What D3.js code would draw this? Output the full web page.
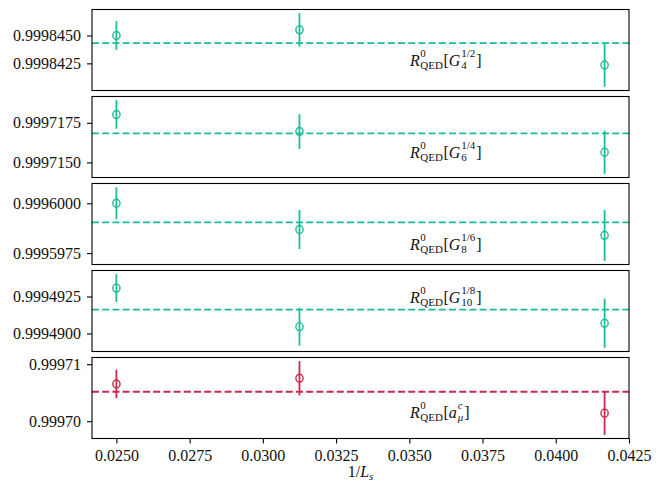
<!DOCTYPE html>
<html><head><meta charset="utf-8">
<script src="https://cdn.jsdelivr.net/npm/d3@7"></script>
<style>body{margin:0;background:#fff}svg{display:block}</style>
</head><body>
<svg id="chart" width="665" height="483"></svg>
<script>
// ---- data ----
const xValues = [0.025, 0.03125, 0.0416667];
const xTicks = [0.025, 0.0275, 0.03, 0.0325, 0.035, 0.0375, 0.04, 0.0425];

const values1 = [0.99984500, 0.99984551, 0.99984235];
const errors1 = [1.29e-6, 1.50e-6, 1.96e-6];
const fit1 = 0.99984431;
const ticks1 = [0.9998425, 0.9998450];

const values2 = [0.99971803, 0.99971695, 0.99971564];
const errors2 = [0.90e-6, 1.09e-6, 1.36e-6];
const fit2 = 0.99971684;
const ticks2 = [0.9997150, 0.9997175];

const values3 = [0.99960000, 0.99959868, 0.99959839];
const errors3 = [0.81e-6, 0.98e-6, 1.28e-6];
const fit3 = 0.99959904;
const ticks3 = [0.9995975, 0.9996000];

const values4 = [0.99949307, 0.99949046, 0.99949069];
const errors4 = [0.94e-6, 1.28e-6, 1.66e-6];
const fit4 = 0.99949161;
const ticks4 = [0.9994900, 0.9994925];

const values5 = [0.99970653, 0.99970753, 0.99970141];
const errors5 = [2.5e-6, 3.0e-6, 3.8e-6];
const fit5 = 0.99970517;
const ticks5 = [0.99970, 0.99971];

const tickDecimals = [7, 7, 7, 7, 5];
const labelG = ["G", "G", "G", "G", "a"];
const labelSup = ["1/2", "1/4", "1/6", "1/8", "c"];
const labelSub = ["4", "6", "8", "10", "μ"];
const colors = ["#1abc9c", "#1abc9c", "#1abc9c", "#1abc9c", "#c9284f"];

// ---- layout ----
const W = 665, H = 483;
const left = 92, right = 629;
const panelTop0 = 9.5, panelStep = 87, panelH = 81;
const labelX = 410;
const labelOffsets = [56.5, 61.8, 66.5, 32.8, 60.8];
const font = "'Liberation Serif', 'DejaVu Serif', serif";

const panels = [
  {v: values1, e: errors1, fit: fit1, ticks: ticks1},
  {v: values2, e: errors2, fit: fit2, ticks: ticks2},
  {v: values3, e: errors3, fit: fit3, ticks: ticks3},
  {v: values4, e: errors4, fit: fit4, ticks: ticks4},
  {v: values5, e: errors5, fit: fit5, ticks: ticks5},
];

const svg = d3.select("#chart");
const xMin = d3.min(xValues), xMax = d3.max(xValues);
const xPad = (xMax - xMin) * 0.05;
const x = d3.scaleLinear().domain([xMin - xPad, xMax + xPad]).range([left, right]);

function mathLabel(g, x0, y0, mainLetter, sup, sub, italicSub) {
  const t = g.append("text").attr("x", x0).attr("y", y0)
    .attr("font-family", font).attr("font-size", 16).attr("fill", "#111");
  let cx = x0;
  function piece(str, opts) {
    const el = g.append("text").attr("x", cx).attr("y", y0 + (opts.dy || 0))
      .attr("font-family", font).attr("font-size", opts.size || 16)
      .attr("font-style", opts.italic ? "italic" : "normal")
      .attr("fill", "#111").text(str);
    return el.node().getComputedTextLength();
  }
  t.remove();
  cx += piece("R", {italic: true}) + 0.5;
  const w1 = piece("0", {size: 11, dy: -9});
  const w2 = piece("QED", {size: 11, dy: 3});
  cx += Math.max(w1, w2) + 0.5;
  cx += piece("[", {});
  cx += piece(mainLetter, {italic: true}) + 1;
  const w3 = piece(sup, {size: 11, dy: -9, italic: italicSub});
  const w4 = piece(sub, {size: 11, dy: 3, italic: italicSub});
  cx += Math.max(w3, w4) + 1;
  piece("]", {});
}

panels.forEach((p, i) => {
  const top = panelTop0 + i * panelStep;
  const bottom = top + panelH;
  const lo = d3.min(p.v.map((d, j) => d - p.e[j]));
  const hi = d3.max(p.v.map((d, j) => d + p.e[j]));
  const pad = (hi - lo) * 0.05;
  const y = d3.scaleLinear().domain([lo - pad, hi + pad]).range([bottom, top]);
  const g = svg.append("g");
  const col = colors[i];

  // fit line
  g.append("line").attr("x1", left).attr("x2", right)
    .attr("y1", y(p.fit)).attr("y2", y(p.fit))
    .attr("stroke", col).attr("stroke-width", 1.8).attr("stroke-dasharray", "7,3.2");

  // error bars
  g.selectAll(".eb").data(p.v).enter().append("line")
    .attr("x1", (d, j) => x(xValues[j])).attr("x2", (d, j) => x(xValues[j]))
    .attr("y1", (d, j) => y(d - p.e[j])).attr("y2", (d, j) => y(d + p.e[j]))
    .attr("stroke", col).attr("stroke-width", 1.8);
  g.selectAll(".pt").data(p.v).enter().append("ellipse")
    .attr("cx", (d, j) => x(xValues[j])).attr("cy", d => y(d))
    .attr("rx", 3.6).attr("ry", 4).attr("fill", "none")
    .attr("stroke", col).attr("stroke-width", 1.4);

  // frame
  g.append("rect").attr("x", left).attr("y", top).attr("width", right - left).attr("height", panelH)
    .attr("fill", "none").attr("stroke", "#000").attr("stroke-width", 1.1);

  // y axis
  const ya = d3.axisLeft(y).tickValues(p.ticks).tickSize(5).tickPadding(6)
    .tickFormat(d3.format("." + tickDecimals[i] + "f"));
  const yg = g.append("g").attr("transform", `translate(${left},0)`).call(ya);
  yg.select(".domain").remove();
  yg.selectAll("line").attr("stroke", "#000").attr("stroke-width", 1.1);
  yg.selectAll("text").attr("font-family", font).attr("font-size", 16).attr("fill", "#111");

  // label
  mathLabel(g, labelX, top + labelOffsets[i], labelG[i], labelSup[i], labelSub[i], i === 4);

  if (i === panels.length - 1) {
    const xa = d3.axisBottom(x).tickValues(xTicks).tickSize(5).tickPadding(6)
      .tickFormat(d3.format(".4f"));
    const xg = g.append("g").attr("transform", `translate(0,${bottom})`).call(xa);
    xg.select(".domain").remove();
    xg.selectAll("line").attr("stroke", "#000").attr("stroke-width", 1.1);
    xg.selectAll("text").attr("font-family", font).attr("font-size", 16).attr("fill", "#111");
  }
});

// x label
const xl = svg.append("text").attr("x", (left + right) / 2).attr("y", 477)
  .attr("text-anchor", "middle").attr("font-family", font).attr("font-size", 16).attr("fill", "#111");
xl.append("tspan").text("1/");
xl.append("tspan").attr("font-style", "italic").text("L");
xl.append("tspan").attr("font-style", "italic").attr("font-size", 11).attr("dy", 3).text("s");
</script>
</body></html>
